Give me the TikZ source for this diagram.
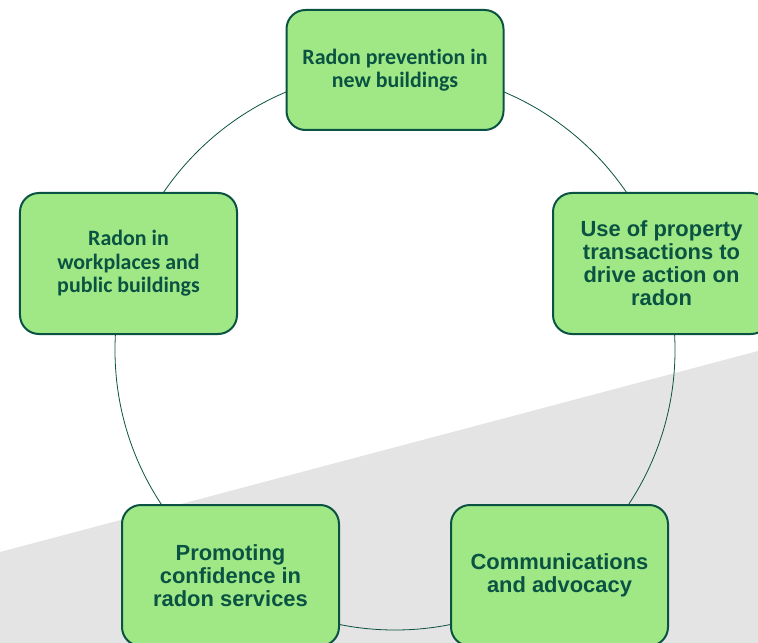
\documentclass[tikz,border=0pt]{standalone}
\usepackage{fontspec}
\newfontfamily\calfont[Ligatures=NoCommon]{Carlito}
\newfontfamily\arfont{Liberation Sans}
\definecolor{boxgreen}{RGB}{160,232,134}
\definecolor{darkgreen}{RGB}{10,82,66}
\definecolor{bggray}{RGB}{228,228,228}
\begin{document}
\begin{tikzpicture}[x=1bp,y=-1bp,
    radonbox/.style={draw=darkgreen,line width=2bp,fill=boxgreen,
      rounded corners=19bp,minimum width=217bp,minimum height=141bp,
      inner sep=0pt,align=center,text=darkgreen},
    caltext/.style={font=\calfont\bfseries\fontsize{22}{23.5}\selectfont},
    artext/.style={font=\arfont\bfseries\fontsize{22}{23}\selectfont}]

  \useasboundingbox (0,0) rectangle (758,643);
  \fill[bggray] (0,552) -- (758,351) -- (758,643) -- (0,643) -- cycle;
  \draw[darkgreen,line width=0.8bp] (395,350) circle[radius=280bp];

  \node[radonbox,caltext,minimum height=120bp] (prevention) at (395,70)
    {Radon prevention in\\new buildings};
  \node[radonbox,artext] (property) at (661.5,263.5)
    {Use of property\\transactions to\\drive action on\\radon};
  \node[radonbox,artext] (comms) at (559.5,575.5)
    {Communications\\and advocacy};
  \node[radonbox,artext] (confidence) at (230.5,575.5)
    {Promoting\\confidence in\\radon services};
  \node[radonbox,caltext] (workplaces) at (128.5,263.5)
    {Radon in\\workplaces and\\public buildings};
\end{tikzpicture}
\end{document}
